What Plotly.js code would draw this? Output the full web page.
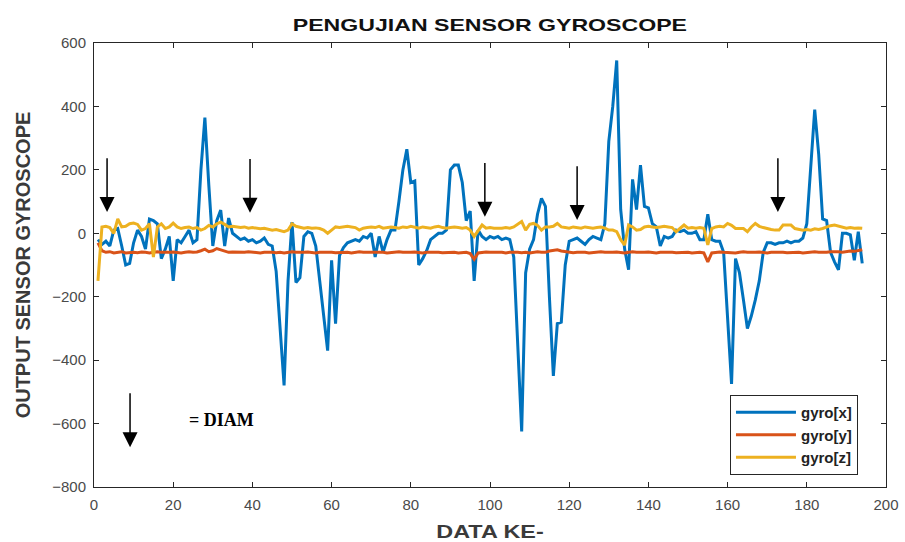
<!DOCTYPE html>
<html>
<head>
<meta charset="utf-8">
<script src="https://cdn.plot.ly/plotly-3.0.1.min.js"></script>
<style>
  html, body { margin: 0; padding: 0; background: #ffffff; }
  #chart { width: 905px; height: 542px; }
  /* wide lettering for the chart and x-axis headings */
  #chart .gtitle, #chart .xtitle {
    transform-box: fill-box;
    transform-origin: center;
  }
  #chart .gtitle { transform: scaleX(1.36); }
  #chart .xtitle { transform: scaleX(1.3); }
</style>
</head>
<body>
<div id="chart"></div>
<script>
// Gyroscope readings, one sample per data index (1..194)
const gyroX = [
  -20, -35, -25, -40, 10, 15, -40, -100, -95, -30,
  10, -10, -50, 45, 40, 30, -80, -50, -10, -150,
  -20, -30, -10, 10, -30, -20, 200, 365, 150, -40,
  40, 73, -40, 48, 0, -10, -20, -15, -25, -20,
  -30, -25, -15, -35, -40, -120, -300, -480, -150, 35,
  -155, -140, -10, 5, 0, -40, -150, -260, -370, -85,
  -285, -70, -45, -30, -25, -20, -25, -10, -15, 0,
  -75, -10, -60, -20, 10, 10, 100, 200, 265, 160,
  165, -100, -80, -55, -20, -10, 0, 0, 10, 200,
  215, 215, 160, 40, 70, -150, 10, -10, -20, -10,
  -15, -10, -20, -15, -20, -75, -330, -625, -125, -50,
  -20, 60, 110, 85, -200, -450, -285, -280, -100, -25,
  -20, -15, -25, -35, -20, -10, -15, -20, 30, 290,
  400, 545, 75, -50, -115, 170, 75, 215, 85, 80,
  30, 20, -40, -10, -15, -10, 10, 5, 10, 0,
  0, 5, -20, -20, 60, -20, -25, -25, -60, -270,
  -475, -80, -125, -210, -300, -260, -210, -150, -60, -30,
  -30, -35, -30, -30, -25, -30, -25, -25, -15, 30,
  200, 390, 250, 45, 40, -60, -90, -115, 0, 0,
  -5, -85, 5, -95
];

const gyroY = [
  -30, -55, -60, -58, -62, -60, -58, -62, -60, -60,
  -61, -59, -60, -62, -60, -58, -60, -61, -60, -59,
  -60, -62, -60, -58, -60, -59, -55, -50, -58, -55,
  -48, -52, -58, -60, -59, -60, -61, -60, -58, -60,
  -60, -62, -60, -59, -60, -61, -60, -62, -60, -58,
  -60, -61, -60, -59, -60, -62, -60, -60, -58, -60,
  -61, -60, -59, -60, -62, -60, -58, -60, -60, -61,
  -60, -59, -60, -62, -60, -60, -58, -60, -61, -60,
  -59, -60, -62, -60, -60, -58, -60, -61, -60, -59,
  -60, -62, -60, -60, -64, -82, -62, -60, -59, -60,
  -61, -60, -60, -62, -60, -59, -60, -61, -60, -62,
  -60, -58, -60, -60, -56, -55, -52, -56, -58, -60,
  -61, -60, -59, -60, -62, -60, -60, -58, -60, -61,
  -60, -59, -60, -62, -60, -58, -60, -61, -60, -59,
  -60, -62, -60, -60, -58, -60, -61, -60, -59, -60,
  -62, -60, -60, -62, -90, -62, -60, -59, -60, -61,
  -60, -62, -60, -58, -60, -61, -60, -59, -60, -62,
  -60, -60, -58, -60, -61, -60, -59, -60, -62, -60,
  -60, -58, -60, -61, -60, -58, -57, -58, -60, -58,
  -56, -57, -55, -52
];

const gyroZ = [
  -150, 20, 22, 18, 0, 45, 20, 22, 30, 32,
  28, 10, 15, 30, -75, 20, 30, 15, 20, 32,
  20, 15, 18, 20, 15, 18, 10, 15, 25, 20,
  30, 35, 28, 20, 22, 20, 18, 20, 16, 18,
  15, 14, 16, 12, 10, 12, 8, 5, 10, 30,
  22, 18, 16, 18, 16, 17, 15, 10, 0, 10,
  20, 18, 20, 22, 20, 18, 10, 16, 18, 20,
  18, 22, 16, 18, 20, 18, 16, 20, 18, 22,
  18, 16, 20, 18, 16, 20, 22, 18, 16, 18,
  20, 18, 16, 18, 10, -10, 10, 26, 16, 18,
  16, 15, 16, 18, 16, 20, 28, 37, 10, 28,
  31, 25, 10, 20, 20, 22, 31, 20, 18, 16,
  20, 18, 16, 20, 18, 16, 18, 20, 16, 10,
  10, 5, -20, -37, 26, 20, 10, 12, 20, 22,
  20, 18, 20, 22, 20, 18, 5, 15, 26, 16,
  18, 16, 18, 16, -37, 15, 20, 22, 20, 31,
  25, 15, 16, 15, 5, 20, 31, 22, 18, 14,
  12, 10, 10, 26, 25, 26, 15, 12, 10, 12,
  10, 14, 12, 15, 20, 24, 26, 22, 20, 16,
  18, 16, 17, 16
];

const dataIndex = gyroX.map((_, i) => i + 1);

// Marked sample positions (downward arrows) and the key arrow
const markIndex = [3.3, 39.4, 98.7, 122, 172.7];
const markTip = [67, 65, 52, 42, 67];
const keyArrow = { x: 9.1, tail: -500, tip: -675 };

const seriesNames = ['gyro[x]', 'gyro[y]', 'gyro[z]'];
const seriesColors = ['#0072BD', '#D95319', '#EDB120'];
const seriesData = [gyroX, gyroY, gyroZ];

const traces = seriesData.map((vals, k) => ({
  type: 'scatter',
  mode: 'lines',
  name: seriesNames[k],
  x: dataIndex,
  y: vals,
  line: { color: seriesColors[k], width: 3 }
}));

const arrowCommon = {
  xref: 'x', yref: 'y', axref: 'x', ayref: 'y',
  showarrow: true, text: '',
  arrowhead: 2, arrowsize: 2, arrowwidth: 1.5, arrowcolor: '#000000'
};

const annotations = markIndex.map((mx, i) => Object.assign({}, arrowCommon, {
  x: mx, y: markTip[i], ax: mx, ay: markTip[i] + 174
}));

annotations.push(Object.assign({}, arrowCommon, {
  x: keyArrow.x, y: keyArrow.tip, ax: keyArrow.x, ay: keyArrow.tail
}));

annotations.push({
  xref: 'x', yref: 'y', x: 23.6, y: -590, xanchor: 'left', yanchor: 'middle',
  showarrow: false, text: '<b>= DIAM</b>',
  font: { family: 'Liberation Serif, Times New Roman, serif', size: 18, color: '#000000' }
});

const axisCommon = {
  showline: true, mirror: 'ticks', linecolor: '#262626', linewidth: 1,
  ticks: 'inside', ticklen: 5, tickcolor: '#262626',
  showgrid: false, zeroline: false,
  tickfont: { family: 'Liberation Sans, Arial, sans-serif', size: 15, color: '#4a4a4a' }
};

const layout = {
  width: 905, height: 542,
  margin: { l: 94, r: 19, t: 43, b: 55 },
  paper_bgcolor: '#ffffff', plot_bgcolor: '#ffffff',
  title: {
    text: '<b>PENGUJIAN SENSOR GYROSCOPE</b>',
    x: 0.5413, xanchor: 'center', y: 0.953, yanchor: 'middle',
    font: { family: 'Liberation Sans, Arial, sans-serif', size: 17, color: '#111111' }
  },
  xaxis: Object.assign({}, axisCommon, {
    range: [0, 200], dtick: 20, tick0: 0, ticklabelstandoff: 4,
    title: {
      text: '<b>DATA KE-</b>', standoff: 17,
      font: { family: 'Liberation Sans, Arial, sans-serif', size: 18, color: '#3a3a3a' }
    }
  }),
  yaxis: Object.assign({}, axisCommon, {
    range: [-800, 600], dtick: 200, tick0: -800, ticklabelstandoff: 4,
    title: {
      text: '<b>OUTPUT SENSOR GYROSCOPE</b>', standoff: 16,
      font: { family: 'Liberation Sans, Arial, sans-serif', size: 20, color: '#3a3a3a' }
    }
  }),
  showlegend: true,
  legend: {
    x: 0.803, y: 0.207, xanchor: 'left', yanchor: 'top',
    bgcolor: '#ffffff', bordercolor: '#262626', borderwidth: 1,
    font: { family: 'Liberation Sans, Arial, sans-serif', size: 15, color: '#222222', weight: 'bold' },
    tracegroupgap: 0, itemwidth: 60
  },
  annotations: annotations
};

Plotly.newPlot('chart', traces, layout, { displayModeBar: false, staticPlot: true });
</script>
</body>
</html>
